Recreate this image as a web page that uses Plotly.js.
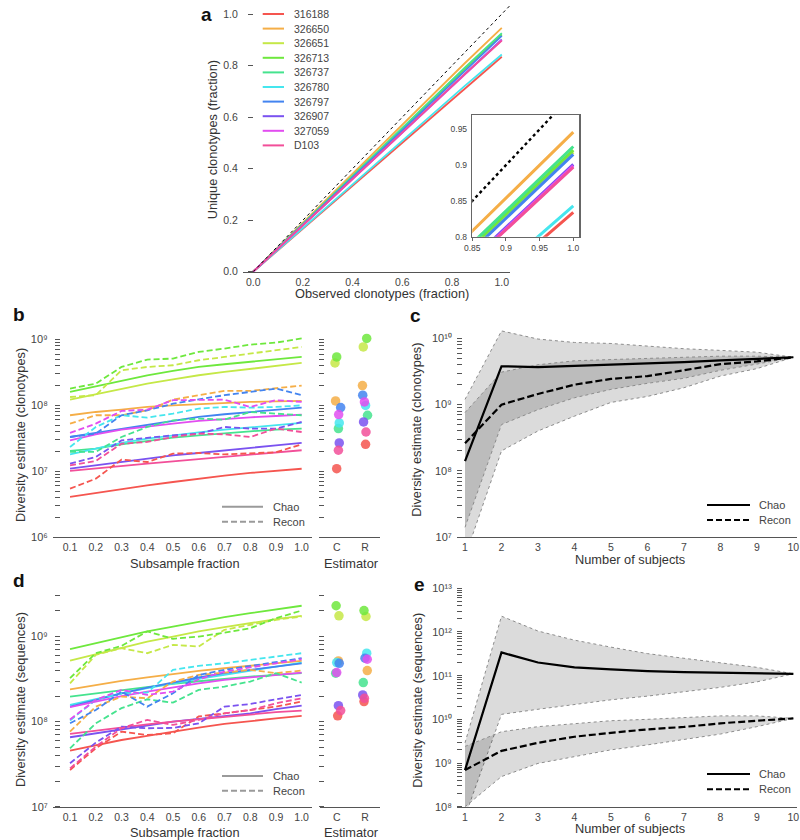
<!DOCTYPE html>
<html><head><meta charset="utf-8">
<script src="https://cdn.plot.ly/plotly-3.0.1.min.js"></script>
<style>body{margin:0;background:#fff}#chart{width:800px;height:840px}</style>
</head><body><div id="chart"></div>
<script>
// ---------- DATA ----------
const subjects = ['316188','326650','326651','326713','326737','326780','326797','326907','327059','D103'];
const colors   = ['#f5554f','#f5ae47','#c5e847','#6ee83d','#45e38e','#45e6ee','#4384f0','#7a52f0','#e24df0','#f24f99'];

// Panel a: unique vs observed clonotype fraction
const observedFracPts = [0, 0.85, 1.0];
const uniqueAt085 = [0.712,0.808,0.784,0.787,0.791,0.720,0.781,0.769,0.767,0.766];
const uniqueAt100 = [0.834,0.946,0.918,0.921,0.926,0.843,0.915,0.901,0.899,0.897];
const identityLine = [0, 1.1];

// Panels b, d: subsampling
const subsampleFrac = [0.1,0.2,0.3,0.4,0.5,0.6,0.7,0.8,0.9,1.0];
const chaoClonotypes = [
 [4.06e6,4.67e6,5.42e6,6.1e6,6.85e6,7.69e6,8.55e6,9.4e6,1.02e7,1.09e7],
 [7.08e7,7.94e7,8.63e7,9.47e7,1.0e8,1.05e8,1.1e8,1.13e8,1.15e8,1.17e8],
 [1.22e8,1.48e8,1.8e8,2.14e8,2.49e8,2.87e8,3.22e8,3.58e8,3.98e8,4.42e8],
 [1.6e8,1.95e8,2.41e8,2.87e8,3.34e8,3.84e8,4.22e8,4.57e8,4.97e8,5.45e8],
 [2.03e7,2.2e7,2.56e7,2.88e7,3.24e7,3.51e7,3.81e7,4.04e7,4.29e7,4.44e7],
 [1.8e7,2.2e7,2.69e7,3.13e7,3.51e7,3.9e7,4.29e7,4.65e7,5.04e7,5.41e7],
 [3.31e7,3.81e7,4.44e7,5.16e7,5.93e7,6.67e7,7.33e7,7.94e7,8.63e7,9.25e7],
 [1.09e7,1.23e7,1.38e7,1.55e7,1.74e7,1.89e7,2.08e7,2.28e7,2.47e7,2.69e7],
 [2.94e7,3.64e7,4.29e7,4.81e7,5.28e7,5.8e7,6.22e7,6.59e7,6.9e7,7.24e7],
 [1.01e7,1.09e7,1.2e7,1.3e7,1.41e7,1.53e7,1.64e7,1.76e7,1.91e7,2.08e7]
];
const reconClonotypes = [
 [5.42e6,7.69e6,1.5e7,1.38e7,1.85e7,1.89e7,1.8e7,1.85e7,1.94e7,2.56e7],
 [5.28e7,7.08e7,7.08e7,8.43e7,1.22e8,1.43e8,1.66e8,1.66e8,1.8e8,2.0e8],
 [1.34e8,1.43e8,3.42e8,3.84e8,4.07e8,4.85e8,5.45e8,6.12e8,6.89e8,7.73e8],
 [1.8e8,2.14e8,3.84e8,4.97e8,5.14e8,6.49e8,7.3e8,8.39e8,9.0e8,1.04e9],
 [1.96e7,1.96e7,3.31e7,4.7e7,5.93e7,6.29e7,6.08e7,7.94e7,7.5e7,7.08e7],
 [2.33e7,4.7e7,7.08e7,6.52e7,7.5e7,8.93e7,9.47e7,9.25e7,9.47e7,1.0e8],
 [3.31e7,3.72e7,7.08e7,8.43e7,1.06e8,1.24e8,1.43e8,1.6e8,1.8e8,1.43e8],
 [1.3e7,1.64e7,2.94e7,3.24e7,3.51e7,3.72e7,4.7e7,4.44e7,4.44e7,5.6e7],
 [3.81e7,5.28e7,8.23e7,8.63e7,1.2e8,1.2e8,1.22e8,9.47e7,1.2e8,1.13e8],
 [1.23e7,1.43e7,2.62e7,2.78e7,3.31e7,3.72e7,3.64e7,3.31e7,4.44e7,3.94e7]
];
const chaoSequences = [
 [4.56e7,5.31e7,6.08e7,6.78e7,7.62e7,8.49e7,9.4e7,1.02e8,1.09e8,1.17e8],
 [2.4e8,2.7e8,3.01e8,3.32e8,3.64e8,3.95e8,4.24e8,4.52e8,4.85e8,5.17e8],
 [5.22e8,6.2e8,7.5e8,8.73e8,1.0e9,1.15e9,1.29e9,1.44e9,1.6e9,1.75e9],
 [7.1e8,8.35e8,9.8e8,1.15e9,1.31e9,1.5e9,1.69e9,1.88e9,2.1e9,2.3e9],
 [1.97e8,2.15e8,2.36e8,2.58e8,2.77e8,2.98e8,3.18e8,3.38e8,3.54e8,3.71e8],
 [1.57e8,1.85e8,2.15e8,2.47e8,2.82e8,3.18e8,3.54e8,3.95e8,4.44e8,4.94e8],
 [1.5e8,1.8e8,2.15e8,2.51e8,2.9e8,3.3e8,3.71e8,4.06e8,4.44e8,4.85e8],
 [6.55e7,7.3e7,8.13e7,9.14e7,1.0e8,1.08e8,1.17e8,1.25e8,1.4e8,1.54e8],
 [1.48e8,1.72e8,2.0e8,2.25e8,2.54e8,2.82e8,3.09e8,3.32e8,3.54e8,3.77e8],
 [7.16e7,7.84e7,8.57e7,9.3e7,1.0e8,1.07e8,1.15e8,1.22e8,1.29e8,1.35e8]
];
const reconSequences = [
 [2.7e7,4.86e7,7.62e7,6.97e7,7.3e7,1.15e8,1.25e8,1.37e8,1.5e8,1.72e8],
 [7.62e7,1.5e8,1.97e8,1.88e8,2.96e8,3.54e8,3.77e8,4.06e8,3.71e8,3.98e8],
 [2.82e8,6.08e8,7.29e8,6.37e8,7.98e8,7.63e8,1.2e9,1.37e9,1.57e9,1.72e9],
 [3.24e8,6.37e8,7.76e8,1.15e9,9.4e8,1.0e9,1.11e9,1.25e9,1.64e9,2.02e9],
 [4.86e7,9.55e7,1.44e8,1.83e8,1.67e8,2.36e8,2.58e8,2.96e8,3.71e8,2.88e8],
 [1.03e8,1.8e8,2.15e8,2.19e8,4.06e8,4.52e8,4.85e8,5.31e8,5.82e8,6.37e8],
 [9.55e7,1.37e8,2.25e8,1.5e8,2.15e8,3.54e8,4.06e8,4.52e8,5.08e8,5.56e8],
 [3.24e7,5.66e7,8.74e7,8.35e7,8.43e7,9.55e7,1.5e8,1.61e8,1.83e8,2.06e8],
 [1.06e8,1.8e8,2.36e8,2.06e8,2.25e8,3.15e8,3.87e8,4.36e8,4.85e8,5.41e8],
 [2.82e7,5.08e7,8.35e7,1.05e8,9.14e7,1.05e8,1.25e8,1.37e8,1.64e8,1.88e8]
];
const estimatorCats = ['C','R'];
const jitterClonoC = [0.0,-0.04,-0.06,0.0,0.06,0.09,0.14,0.09,0.07,0.06];
const jitterClonoR = [0.02,-0.09,-0.06,0.06,0.09,0.02,-0.08,-0.05,-0.02,0.035];
const jitterSeqC   = [0.035,0.06,0.08,-0.02,-0.035,0.0,0.09,0.06,0.0,0.14];
const jitterSeqR   = [-0.035,0.08,0.035,-0.035,-0.06,0.06,0.0,-0.08,0.08,-0.02];

// Panels c, e: pooled subjects
const numSubjects = [1,2,3,4,5,6,7,8,9,10];
const chaoClonoMean = [1.4e8,3.8e9,3.7e9,3.85e9,4.0e9,4.2e9,4.4e9,4.65e9,4.9e9,5.2e9];
const chaoClonoLow  = [5e6,2e8,4e8,6.7e8,1.08e9,1.33e9,1.8e9,2.7e9,3.5e9,5.2e9];
const chaoClonoHigh = [1.2e9,1.3e10,9.8e9,8.7e9,8.4e9,7.6e9,7.0e9,6.6e9,6.2e9,5.2e9];
const reconClonoMean = [2.6e8,1.0e9,1.45e9,2.0e9,2.45e9,2.7e9,3.3e9,4.1e9,4.5e9,5.2e9];
const reconClonoLow  = [1.4e7,5e8,8.4e8,1.27e9,1.7e9,2.1e9,2.5e9,3.3e9,4.1e9,5.2e9];
const reconClonoHigh = [7.6e8,3.1e9,4.0e9,4.6e9,4.8e9,5.0e9,5.2e9,5.4e9,5.4e9,5.2e9];
const chaoSeqMean = [6.9e8,3.4e11,2.0e11,1.55e11,1.4e11,1.27e11,1.2e11,1.17e11,1.15e11,1.1e11];
const chaoSeqLow  = [6e7,1.3e10,1.7e10,2.2e10,2.8e10,3.4e10,4.3e10,5.4e10,7.2e10,1.1e11];
const chaoSeqHigh = [2.9e9,2.3e12,1.05e12,6.5e11,4.5e11,3.2e11,2.5e11,2.0e11,1.55e11,1.1e11];
const reconSeqMean = [6.9e8,1.9e9,2.9e9,4.0e9,4.9e9,5.9e9,6.7e9,8.1e9,9.3e9,1.05e10];
const reconSeqLow  = [1e8,4.9e8,9.8e8,1.4e9,2.0e9,2.6e9,3.4e9,4.6e9,6.8e9,1.05e10];
const reconSeqHigh = [2.4e9,5.2e9,6.8e9,8.1e9,9.3e9,1.0e10,1.1e10,1.2e10,1.2e10,1.05e10];

// ---------- HELPERS ----------
const W = 800, H = 840;
const FONT = 'Liberation Sans, Arial, Helvetica, sans-serif';
const fx = px => px / W;
const fy = py => 1 - py / H;
const TICKC = '#555', LABC = '#444', TITC = '#333';
const SUPD = {'0':'\u2070','1':'\u00b9','2':'\u00b2','3':'\u00b3','4':'\u2074','5':'\u2075','6':'\u2076','7':'\u2077','8':'\u2078','9':'\u2079'};
function minorLog(lo, hi) { const v = []; for (let e = lo; e < hi; e++) for (let m = 2; m <= 9; m++) v.push(m * Math.pow(10, e)); return v; }
function majorLog(lo, hi) { const v = []; for (let e = lo; e <= hi; e++) v.push(Math.pow(10, e)); return v; }
function supText(vals) { return vals.map(v => '10' + String(Math.round(Math.log10(v))).split('').map(c => SUPD[c]).join('')); }

const traces = [];
const noHover = {hoverinfo: 'skip', showlegend: false};

// ---------- PANEL A ----------
subjects.forEach((s, i) => {
  traces.push(Object.assign({x: observedFracPts, y: [0, uniqueAt085[i], uniqueAt100[i]], name: s, mode: 'lines',
    line: {color: colors[i], width: 1.8}, xaxis: 'x', yaxis: 'y'}, noHover));
});
traces.push(Object.assign({x: identityLine, y: identityLine, mode: 'lines', line: {color: '#000', width: 1, dash: 'dot'}, xaxis: 'x', yaxis: 'y'}, noHover));
// inset
traces.push(Object.assign({x: identityLine, y: identityLine, mode: 'lines', line: {color: '#000', width: 2.4, dash: 'dot'}, xaxis: 'x2', yaxis: 'y2'}, noHover));
subjects.forEach((s, i) => {
  traces.push(Object.assign({x: observedFracPts, y: [0, uniqueAt085[i], uniqueAt100[i]], name: s, mode: 'lines',
    line: {color: colors[i], width: 3}, xaxis: 'x2', yaxis: 'y2'}, noHover));
});

// ---------- PANELS B, D ----------
function subsamplePanel(chao, recon, xa, ya, xe, ye, jC, jR) {
  subjects.forEach((s, i) => {
    traces.push(Object.assign({x: subsampleFrac, y: chao[i], mode: 'lines', line: {color: colors[i], width: 1.8}, xaxis: xa, yaxis: ya}, noHover));
  });
  subjects.forEach((s, i) => {
    traces.push(Object.assign({x: subsampleFrac, y: recon[i], mode: 'lines', line: {color: colors[i], width: 1.8, dash: '6px,3px'}, xaxis: xa, yaxis: ya}, noHover));
  });
  traces.push(Object.assign({x: jC.map(j => 0 + j), y: chao.map(a => a[a.length - 1]), mode: 'markers',
    marker: {color: colors, size: 9.5, opacity: 0.85, line: {width: 0}}, xaxis: xe, yaxis: ye}, noHover));
  traces.push(Object.assign({x: jR.map(j => 1 + j), y: recon.map(a => a[a.length - 1]), mode: 'markers',
    marker: {color: colors, size: 9.5, opacity: 0.85, line: {width: 0}}, xaxis: xe, yaxis: ye}, noHover));
}
subsamplePanel(chaoClonotypes, reconClonotypes, 'x3', 'y3', 'x4', 'y4', jitterClonoC, jitterClonoR);
subsamplePanel(chaoSequences, reconSequences, 'x6', 'y6', 'x7', 'y7', jitterSeqC, jitterSeqR);

// ---------- PANELS C, E ----------
function bandPanel(cm, cl, ch, rm, rl, rh, xa, ya) {
  const edge = {color: '#8c8c8c', width: 1, dash: 'dot'};
  [[cl, ch], [rl, rh]].forEach(([lo, hi]) => {
    traces.push(Object.assign({x: numSubjects, y: lo, mode: 'lines', line: edge, xaxis: xa, yaxis: ya}, noHover));
    traces.push(Object.assign({x: numSubjects, y: hi, mode: 'lines', line: edge, fill: 'tonexty', fillcolor: 'rgba(0,0,0,0.14)', xaxis: xa, yaxis: ya}, noHover));
  });
  traces.push(Object.assign({x: numSubjects, y: rm, mode: 'lines', line: {color: '#000', width: 2.2, dash: '7px,3px'}, xaxis: xa, yaxis: ya}, noHover));
  traces.push(Object.assign({x: numSubjects, y: cm, mode: 'lines', line: {color: '#000', width: 2.2}, xaxis: xa, yaxis: ya}, noHover));
}
bandPanel(chaoClonoMean, chaoClonoLow, chaoClonoHigh, reconClonoMean, reconClonoLow, reconClonoHigh, 'x5', 'y5');
bandPanel(chaoSeqMean, chaoSeqLow, chaoSeqHigh, reconSeqMean, reconSeqLow, reconSeqHigh, 'x8', 'y8');

// ---------- AXES ----------
const tf = (s) => ({family: FONT, size: s, color: LABC});
function xAxis(x0, x1, range, anchor, extra) {
  return Object.assign({domain: [fx(x0), fx(x1)], range, anchor, showgrid: false, zeroline: false,
    showline: true, linecolor: TICKC, linewidth: 1.3, ticks: '', tickfont: tf(10.5), fixedrange: true}, extra || {});
}
function yAxis(yBot, yTop, range, posPx, extra) {
  return Object.assign({domain: [fy(yBot), fy(yTop)], range, anchor: 'free', position: fx(posPx), showgrid: false, zeroline: false,
    showline: false, ticks: 'outside', ticklen: 4, tickwidth: 1, tickcolor: TICKC, tickfont: tf(10), fixedrange: true}, extra || {});
}
function logY(yBot, yTop, lo, hi, posPx, labels, standoff) {
  const maj = majorLog(lo, Math.floor(hi));
  return yAxis(yBot, yTop, [lo, hi], posPx, {type: 'log', tickmode: 'array', tickvals: maj, ticktext: supText(maj), ticklen: 5,
    showticklabels: labels, tickfont: tf(11), ticklabelstandoff: standoff || 0,
    minor: {ticks: 'outside', ticklen: 5, tickwidth: 1, tickcolor: TICKC, tickmode: 'array', tickvals: minorLog(lo, Math.ceil(hi)), showgrid: false}});
}
const fracTicks = [0, 0.2, 0.4, 0.6, 0.8, 1.0];

const layout = {
  width: W, height: H, margin: {l: 0, r: 0, t: 0, b: 0},
  paper_bgcolor: '#fff', plot_bgcolor: 'rgba(0,0,0,0)', showlegend: false,
  font: {family: FONT, color: TITC},
  // a
  xaxis: xAxis(243, 510, [-0.041, 1.033], 'y', {tickmode: 'array', tickvals: fracTicks, ticktext: fracTicks.map(v => v.toFixed(1))}),
  yaxis: yAxis(271.7, 5, [0, 1.035], 253, {tickmode: 'array', tickvals: fracTicks, ticktext: fracTicks.map(v => v.toFixed(1)),
    tickfont: tf(10.5), ticklen: 5, ticklabelstandoff: 8}),
  // inset
  xaxis2: xAxis(472.3, 579, [0.85, 1.0085], 'y2', {mirror: true, linecolor: '#666', linewidth: 1.5, ticks: 'outside', ticklen: 3, tickcolor: '#666',
    tickmode: 'array', tickvals: [0.85, 0.9, 0.95, 1.0], ticktext: ['0.85', '0.9', '0.95', '1.0'], tickfont: tf(8.5)}),
  yaxis2: {domain: [fy(236.7), fy(115)], range: [0.8, 0.97], anchor: 'x2', showgrid: false, zeroline: false, showline: true, mirror: true,
    linecolor: '#666', linewidth: 1.5, ticks: '', tickmode: 'array', tickvals: [0.8, 0.85, 0.9, 0.95], ticktext: ['0.8', '0.85', '0.9', '0.95'],
    tickfont: tf(8.5), fixedrange: true, ticklabelstandoff: 2},
  // b
  xaxis3: xAxis(53.3, 311.7, [0.035, 1.039], 'y3', {tickmode: 'array', tickvals: subsampleFrac, ticktext: subsampleFrac.map(v => v.toFixed(1))}),
  yaxis3: logY(537, 333, 6, 9.1, 60, true, 5),
  xaxis4: xAxis(320, 380, [-0.59, 1.53], 'y4', {tickmode: 'array', tickvals: [0, 1], ticktext: estimatorCats}),
  yaxis4: logY(537, 333, 6, 9.1, 324, false),
  // c
  xaxis5: xAxis(456.7, 797, [0.772, 10.1], 'y5', {tickmode: 'array', tickvals: numSubjects, ticktext: numSubjects.map(String)}),
  yaxis5: logY(537, 318.6, 7, 10.3, 462, true, 3),
  // d
  xaxis6: xAxis(53.3, 311.7, [0.035, 1.039], 'y6', {tickmode: 'array', tickvals: subsampleFrac, ticktext: subsampleFrac.map(v => v.toFixed(1))}),
  yaxis6: logY(806.7, 594, 7, 9.5, 60, true, 5),
  xaxis7: xAxis(320, 380, [-0.59, 1.53], 'y7', {tickmode: 'array', tickvals: [0, 1], ticktext: estimatorCats}),
  yaxis7: logY(806.7, 594, 7, 9.5, 324, false),
  // e
  xaxis8: xAxis(456.7, 797, [0.772, 10.1], 'y8', {tickmode: 'array', tickvals: numSubjects, ticktext: numSubjects.map(String)}),
  yaxis8: logY(806.7, 588.3, 8, 13, 462, true, 3),
  shapes: [], annotations: []
};

// ---------- TEXT & LEGENDS ----------
function txt(x, y, text, o) {
  layout.annotations.push(Object.assign({xref: 'paper', yref: 'paper', x: fx(x), y: fy(y), text, showarrow: false,
    xanchor: 'center', yanchor: 'middle', font: {family: FONT, size: 12.8, color: TITC}}, o || {}));
}
function seg(x0, x1, y, line) {
  layout.shapes.push({type: 'line', xref: 'paper', yref: 'paper', x0: fx(x0), x1: fx(x1), y0: fy(y), y1: fy(y), line});
}
// panel letters
[['a', 206, 14], ['b', 19, 314], ['c', 415, 315], ['d', 19, 580], ['e', 419, 584]].forEach(([t, x, y]) =>
  txt(x, y, '<b>' + t + '</b>', {font: {family: FONT, size: 19, color: '#111'}}));
// axis titles
txt(381.7, 293.3, 'Observed clonotypes (fraction)');
txt(213.3, 140, 'Unique clonotypes (fraction)', {textangle: -90});
txt(20, 435, 'Diversity estimate (clonotypes)', {textangle: -90});
txt(185.3, 563.3, 'Subsample fraction');
txt(351.7, 563.3, 'Estimator');
txt(416.7, 430, 'Diversity estimate (clonotypes)', {textangle: -90});
txt(630, 559.3, 'Number of subjects');
txt(20, 700, 'Diversity estimate (sequences)', {textangle: -90});
txt(185.3, 832.7, 'Subsample fraction');
txt(351.7, 832.7, 'Estimator');
txt(416.7, 700, 'Diversity estimate (sequences)', {textangle: -90});
txt(630, 828, 'Number of subjects');
// panel a legend
subjects.forEach((s, i) => {
  const y = 14 + i * 14.6;
  seg(262.7, 284, y, {color: colors[i], width: 2});
  txt(291.7, y, s, {xanchor: 'left', font: {family: FONT, size: 10.5, color: LABC}});
});
// Chao / Recon legends
function estLegend(x0, x1, xt, yC, yR, col) {
  seg(x0, x1, yC, {color: col, width: 2});
  seg(x0, x1, yR, {color: col, width: 2, dash: '6px,3px'});
  txt(xt, yC, 'Chao', {xanchor: 'left', font: {family: FONT, size: 11, color: LABC}});
  txt(xt, yR, 'Recon', {xanchor: 'left', font: {family: FONT, size: 11, color: LABC}});
}
estLegend(222, 263, 270.7, 506.7, 521.7, '#9a9a9a');
estLegend(222, 263, 270.7, 776, 790.7, '#9a9a9a');
estLegend(707, 750, 757, 505, 520, '#000');
estLegend(707, 750, 757, 774, 789.3, '#000');

Plotly.newPlot('chart', traces, layout, {staticPlot: true, displayModeBar: false});
</script>
</body></html>
